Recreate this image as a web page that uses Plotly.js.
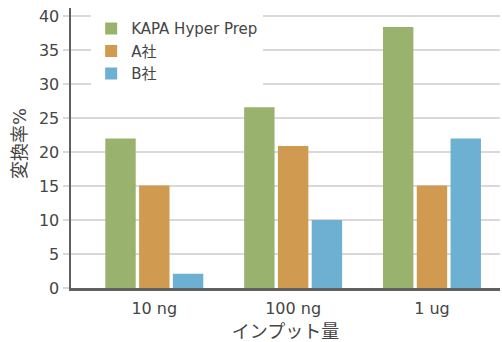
<!DOCTYPE html>
<html><head><meta charset="utf-8">
<script src="https://cdn.plot.ly/plotly-3.0.1.min.js"></script>
<style>html,body{margin:0;padding:0;background:#fff;}#c{width:502px;height:342px;}</style>
</head><body><div id="c"></div>
<script>
const categories = ['10 ng', '100 ng', '1 ug'];
const seriesNames = ['KAPA Hyper Prep', 'A社', 'B社'];
const kapaValues = [22, 26.6, 38.4];
const aValues = [15.1, 20.9, 15.1];
const bValues = [2.1, 10, 22];
const yTicks = [0, 5, 10, 15, 20, 25, 30, 35, 40];
const colors = ['#99b36f', '#d09b50', '#6eb0d2'];
const xTitle = 'インプット量';
const yTitle = '変換率%';

const F = '"DejaVu Sans", "Noto Sans CJK JP", sans-serif';
const TXT = '#454545';
const traces = [kapaValues, aValues, bValues].map((v, i) => ({
  type: 'bar', x: categories, y: v, name: seriesNames[i],
  marker: {color: colors[i]}, hoverinfo: 'none'
}));
const layout = {
  width: 502, height: 342,
  margin: {l: 71, r: 2, t: 8, b: 54},
  paper_bgcolor: '#fff', plot_bgcolor: '#fff',
  barmode: 'group', bargap: 0.27, bargroupgap: 0.1,
  font: {family: F, color: TXT, size: 15},
  showlegend: true,
  legend: {x: 0.047, y: 0.985, xanchor: 'left', yanchor: 'top', bgcolor: '#fff',
    font: {size: 15, color: TXT}, tracegroupgap: 0, itemwidth: 30},
  xaxis: {type: 'category', range: [-0.6, 2.49], showgrid: false,
    showline: true, linecolor: '#606060', linewidth: 2.5, ticks: '',
    tickfont: {size: 16, color: TXT}, ticklabelstandoff: 4,
    title: {text: xTitle, font: {size: 18, color: TXT}, standoff: 11}},
  yaxis: {range: [0, 41.2], tickvals: yTicks, ticktext: yTicks.map(String),
    showgrid: true, gridcolor: '#d9d9d9', gridwidth: 2,
    showline: true, linecolor: '#606060', linewidth: 2.5,
    ticks: 'outside', ticklen: 6, tickcolor: '#d9d9d9', tickwidth: 2,
    tickfont: {size: 16, color: TXT}, zeroline: false},
  annotations: [{text: yTitle, xref: 'paper', yref: 'paper', x: -0.119, y: 0.518,
    xanchor: 'center', yanchor: 'middle', textangle: -90, showarrow: false,
    font: {size: 18, color: TXT}}]
};
Plotly.newPlot('c', traces, layout, {staticPlot: true, displayModeBar: false});
</script></body></html>
